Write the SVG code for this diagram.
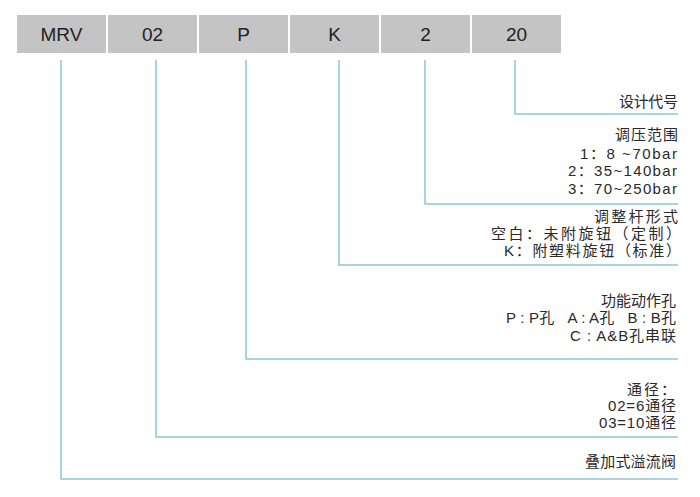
<svg xmlns="http://www.w3.org/2000/svg" width="700" height="497" viewBox="0 0 700 497">
<style>
.box{fill:#c4c4c4;}
.bt{font-family:"Liberation Sans","Noto Sans CJK SC",sans-serif;font-size:19px;fill:#222;text-anchor:middle;}
.lt{font-family:"Liberation Sans","Noto Sans CJK SC",sans-serif;font-size:15px;fill:#2a2a2a;white-space:pre;}
.ln{fill:none;stroke:#8ec5d6;stroke-width:1.5;}
</style>
<rect width="700" height="497" fill="#fff"/>
<g id="codes">
<g id="n-mrv"><rect class="box" x="17" y="15" width="89" height="38"/><text class="bt" x="61.5" y="41">MRV</text></g>
<g id="n-02"><rect class="box" x="108" y="15" width="89" height="38"/><text class="bt" x="152.5" y="41">02</text></g>
<g id="n-p"><rect class="box" x="199" y="15" width="89" height="38"/><text class="bt" x="243.5" y="41">P</text></g>
<g id="n-k"><rect class="box" x="290" y="15" width="89" height="38"/><text class="bt" x="334.5" y="41">K</text></g>
<g id="n-2"><rect class="box" x="381" y="15" width="89" height="38"/><text class="bt" x="425.5" y="41">2</text></g>
<g id="n-20"><rect class="box" x="472" y="15" width="89" height="38"/><text class="bt" x="516.5" y="41">20</text></g>
</g>
<g id="connectors">
<polyline class="ln" points="515,60 515,114 678,114"/>
<polyline class="ln" points="425,60 425,204 678,204"/>
<polyline class="ln" points="339,60 339,265 678,265"/>
<polyline class="ln" points="246,60 246,359 678,359"/>
<polyline class="ln" points="156,60 156,437 678,437"/>
<polyline class="ln" points="61,60 61,479 678,479"/>
</g>
<g id="l-design">
<text class="lt" x="619" y="107" textLength="59" lengthAdjust="spacing">设计代号</text>
</g>
<g id="l-pressure">
<text class="lt" x="615" y="140" textLength="63" lengthAdjust="spacing">调压范围</text>
<text class="lt" x="580" y="158.5" textLength="97" lengthAdjust="spacing">1：8 ~70bar</text>
<text class="lt" x="568" y="176" textLength="109" lengthAdjust="spacing">2：35~140bar</text>
<text class="lt" x="568" y="194" textLength="109" lengthAdjust="spacing">3：70~250bar</text>
</g>
<g id="l-adjust">
<text class="lt" x="594" y="222" textLength="84" lengthAdjust="spacing">调整杆形式</text>
<text class="lt" x="491" y="239" textLength="190" lengthAdjust="spacing">空白：未附旋钮（定制）</text>
<text class="lt" x="504" y="256" textLength="177" lengthAdjust="spacing">K：附塑料旋钮（标准）</text>
</g>
<g id="l-function">
<text class="lt" x="601" y="306" textLength="75" lengthAdjust="spacing">功能动作孔</text>
<text class="lt" x="506" y="323" textLength="170" lengthAdjust="spacing">P : P孔   A : A孔   B : B孔</text>
<text class="lt" x="570" y="341" textLength="106" lengthAdjust="spacing">C : A&amp;B孔串联</text>
</g>
<g id="l-size">
<text class="lt" x="627" y="395" textLength="49" lengthAdjust="spacing">通径：</text>
<text class="lt" x="608" y="411" textLength="68" lengthAdjust="spacing">02=6通径</text>
<text class="lt" x="599" y="428" textLength="77" lengthAdjust="spacing">03=10通径</text>
</g>
<g id="l-type">
<text class="lt" x="585" y="467" textLength="91" lengthAdjust="spacing">叠加式溢流阀</text>
</g>
</svg>
